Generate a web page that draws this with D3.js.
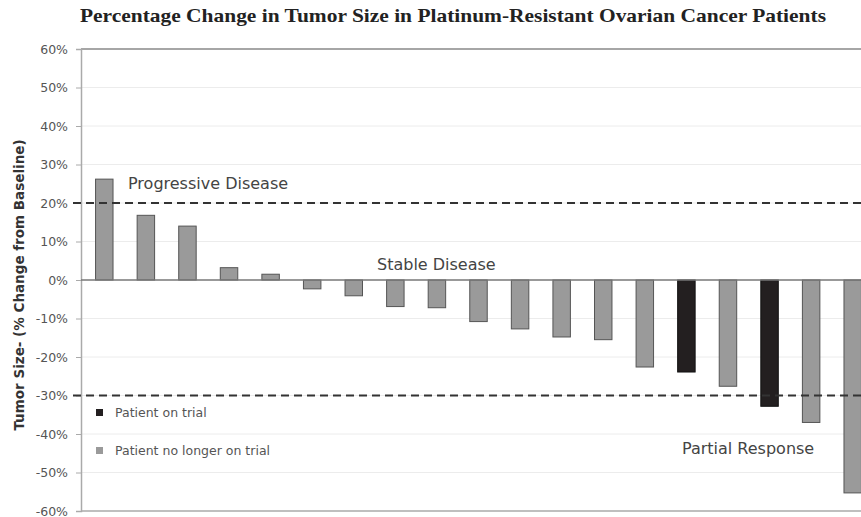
<!DOCTYPE html>
<meta charset="utf-8">
<body style="margin:0;background:#fff">
<script src="https://cdnjs.cloudflare.com/ajax/libs/d3/7.8.5/d3.min.js"></script>
<script>
// patient order, percent change from baseline, status
var patients = d3.range(1, 20).map(String);
var change = [26.2, 16.8, 14.0, 3.2, 1.5, -2.3, -4.1, -6.9, -7.2, -10.8, -12.7, -14.8, -15.5, -22.6, -23.9, -27.6, -32.8, -37.0, -55.3];
var onTrial = [0, 0, 0, 0, 0, 0, 0, 0, 0, 0, 0, 0, 0, 0, 1, 0, 1, 0, 0];
var yTicks = [60, 50, 40, 30, 20, 10, 0, -10, -20, -30, -40, -50, -60];
var cutoffs = [20, -30];

var width = 861, height = 517;
var plotLeft = 81, plotTop = 49, plotBottom = 511;

var svg = d3.select("body").append("svg")
  .attr("width", width)
  .attr("height", height)
  .style("display", "block");

var x = d3.scaleBand().domain(patients).range([83.5, 873.5]).paddingInner(0.58).paddingOuter(0.29);
var y = d3.scaleLinear().domain([-60, 60]).range([plotBottom, plotTop]);

// title
svg.append("text")
  .attr("x", 80).attr("y", 22)
  .attr("textLength", 746)
  .attr("lengthAdjust", "spacingAndGlyphs")
  .attr("font-family", "Liberation Serif, Times New Roman, serif")
  .attr("font-weight", "bold")
  .attr("font-size", 19)
  .attr("fill", "#222")
  .text("Percentage Change in Tumor Size in Platinum-Resistant Ovarian Cancer Patients");

// gridlines
svg.append("g")
  .selectAll("line")
  .data(yTicks.filter(function(d) { return d != 0 && Math.abs(d) != 60; }))
  .enter().append("line")
  .attr("x1", plotLeft).attr("x2", width)
  .attr("y1", function(d) { return y(d); })
  .attr("y2", function(d) { return y(d); })
  .attr("stroke", "#ececec");

// frame top / bottom
svg.append("line").attr("x1", plotLeft).attr("x2", width).attr("y1", y(60)).attr("y2", y(60))
  .attr("stroke", "#888").attr("stroke-width", 1.5);
svg.append("line").attr("x1", plotLeft).attr("x2", width).attr("y1", y(-60)).attr("y2", y(-60))
  .attr("stroke", "#aaa").attr("stroke-width", 1.5);

// y axis
var yAxis = svg.append("g")
  .attr("transform", "translate(" + plotLeft + ",0)")
  .call(d3.axisLeft(y).tickValues(yTicks).tickSize(5).tickFormat(function(d) { return d + "%"; }));
yAxis.select(".domain").attr("stroke", "#aaa").attr("stroke-width", 1.5);
yAxis.selectAll(".tick line").attr("stroke", "#aaa");
yAxis.selectAll(".tick text")
  .attr("x", -13)
  .attr("font-family", "DejaVu Sans, Verdana, sans-serif")
  .attr("font-size", 12.5)
  .attr("fill", "#555");

svg.append("text")
  .attr("transform", "translate(24,285) rotate(-90)")
  .attr("text-anchor", "middle")
  .attr("font-family", "DejaVu Sans, Verdana, sans-serif")
  .attr("font-weight", "bold")
  .attr("font-size", 13.5)
  .attr("fill", "#333")
  .text("Tumor  Size- (% Change from Baseline)");

// bars
svg.append("g")
  .selectAll("rect")
  .data(change)
  .enter().append("rect")
  .attr("x", function(d, i) { return x(patients[i]); })
  .attr("width", x.bandwidth())
  .attr("y", function(d) { return y(Math.max(0, d)); })
  .attr("height", function(d) { return Math.abs(y(d) - y(0)); })
  .attr("fill", function(d, i) { return onTrial[i] ? "#231f20" : "#9a9a9a"; })
  .attr("stroke", function(d, i) { return onTrial[i] ? "#111" : "#555"; })
  .attr("stroke-width", 1);

// zero line
svg.append("line").attr("x1", plotLeft).attr("x2", width).attr("y1", y(0)).attr("y2", y(0))
  .attr("stroke", "#777").attr("stroke-width", 1.5);

// response cutoffs
svg.append("g")
  .selectAll("line")
  .data(cutoffs)
  .enter().append("line")
  .attr("x1", plotLeft - 8).attr("x2", width)
  .attr("y1", function(d) { return y(d); })
  .attr("y2", function(d) { return y(d); })
  .attr("stroke", "#333")
  .attr("stroke-width", 1.8)
  .attr("stroke-dasharray", "8,5");

// region labels
var labels = [
  {t: "Progressive Disease", x: 128, y: 189},
  {t: "Stable Disease", x: 377, y: 270},
  {t: "Partial Response", x: 682, y: 454}
];
svg.append("g")
  .selectAll("text")
  .data(labels)
  .enter().append("text")
  .attr("x", function(d) { return d.x; })
  .attr("y", function(d) { return d.y; })
  .attr("font-family", "DejaVu Sans, Verdana, sans-serif")
  .attr("font-size", 16)
  .attr("fill", "#444")
  .text(function(d) { return d.t; });

// legend
var legend = [
  {t: "Patient on trial", c: "#231f20", y: 413},
  {t: "Patient no longer on trial", c: "#9a9a9a", y: 451}
];
var lg = svg.append("g").selectAll("g").data(legend).enter().append("g");
lg.append("rect")
  .attr("x", 96).attr("y", function(d) { return d.y - 4; })
  .attr("width", 7).attr("height", 7)
  .attr("fill", function(d) { return d.c; });
lg.append("text")
  .attr("x", 115).attr("y", function(d) { return d.y + 4; })
  .attr("font-family", "DejaVu Sans, Verdana, sans-serif")
  .attr("font-size", 12.5)
  .attr("fill", "#555")
  .text(function(d) { return d.t; });
</script>
</body>
